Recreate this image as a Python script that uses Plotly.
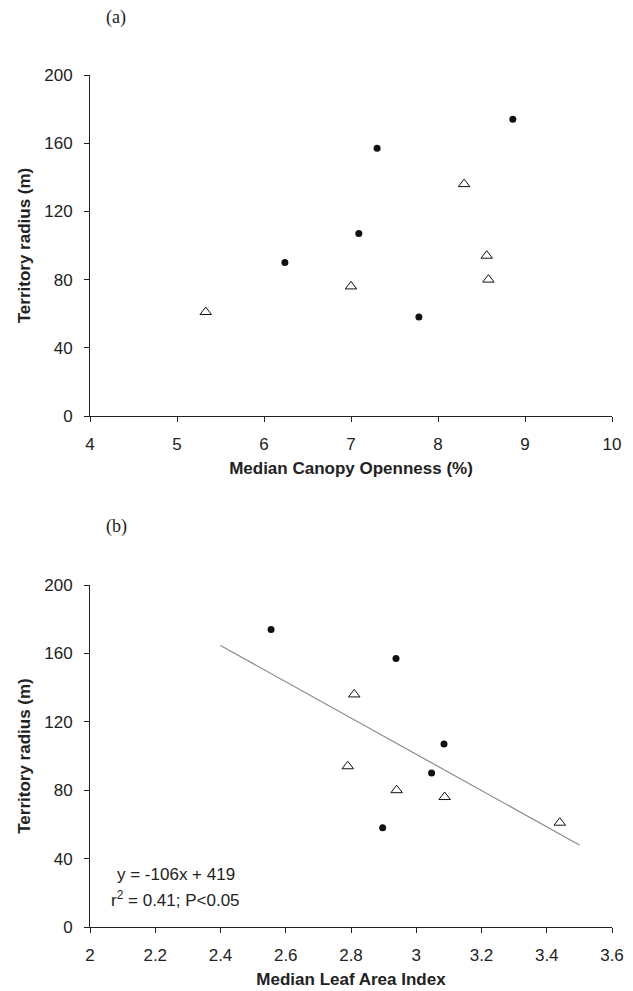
import plotly.graph_objects as go

# ---- data ----
dot_radius = [90, 107, 157, 58, 174]
dot_canopy = [6.24, 7.09, 7.30, 7.78, 8.86]
dot_lai = [3.047, 3.085, 2.938, 2.897, 2.555]

tri_radius = [61, 76, 136, 94, 80]
tri_canopy = [5.33, 7.00, 8.30, 8.56, 8.58]
tri_lai = [3.44, 3.087, 2.81, 2.79, 2.94]

fit_slope = -106
fit_intercept = 419
fit_x = [2.4, 3.5]
fit_y = [fit_slope * v + fit_intercept for v in fit_x]

x_ticks_a = [4, 5, 6, 7, 8, 9, 10]
x_ticks_b = [2, 2.2, 2.4, 2.6, 2.8, 3, 3.2, 3.4, 3.6]
y_ticks = [0, 40, 80, 120, 160, 200]

# the page body adds an 8px margin, so the figure is drawn 8px smaller and offset
OFF = 8
W, H = 633 - OFF, 991 - OFF
FONT = "Liberation Sans, Arial, sans-serif"
SERIF = "Liberation Serif, Times New Roman, serif"


def px(xp):
    return (xp - OFF) / W


def py(yp):
    return (H - (yp - OFF)) / H


dot_marker = dict(symbol="circle", size=7, color="#111111")
tri_marker = dict(symbol="triangle-up-open", size=10, color="#111111", line=dict(width=1, color="#111111"))

fig = go.Figure()
fig.add_trace(go.Scatter(x=dot_canopy, y=dot_radius, mode="markers", marker=dot_marker,
                         xaxis="x", yaxis="y", showlegend=False))
fig.add_trace(go.Scatter(x=tri_canopy, y=tri_radius, mode="markers", marker=tri_marker,
                         xaxis="x", yaxis="y", showlegend=False))
fig.add_trace(go.Scatter(x=fit_x, y=fit_y, mode="lines", line=dict(color="#8c8c8c", width=1.2),
                         xaxis="x2", yaxis="y2", showlegend=False))
fig.add_trace(go.Scatter(x=dot_lai, y=dot_radius, mode="markers", marker=dot_marker,
                         xaxis="x2", yaxis="y2", showlegend=False))
fig.add_trace(go.Scatter(x=tri_lai, y=tri_radius, mode="markers", marker=tri_marker,
                         xaxis="x2", yaxis="y2", showlegend=False))

xdom = [px(90), px(612)]
ydom_a = [py(416), py(75)]
ydom_b = [py(927), py(585)]

common_axis = dict(showgrid=False, zeroline=False, showline=True, linecolor="#222222", linewidth=1,
                   ticks="outside", ticklen=5, tickcolor="#222222", tickwidth=1, automargin=False,
                   tickfont=dict(family=FONT, size=17, color="#222222"))
title_font = dict(family=FONT, size=17, color="#222222")

fig.update_layout(
    template="none",
    width=W, height=H,
    margin=dict(l=0, r=0, t=0, b=0),
    paper_bgcolor="white", plot_bgcolor="white",
    xaxis=dict(domain=xdom, anchor="y", range=[4, 10], tickvals=x_ticks_a,
               ticktext=[str(v) for v in x_ticks_a], ticklabelstandoff=8,
               title=dict(text="<b>Median Canopy Openness (%)</b>", font=title_font, standoff=8),
               **common_axis),
    yaxis=dict(domain=ydom_a, anchor="x", range=[0, 200], tickvals=y_ticks, ticklabelstandoff=8,
               title=dict(text="<b>Territory radius (m)</b>", font=title_font, standoff=9),
               **common_axis),
    xaxis2=dict(domain=xdom, anchor="y2", range=[2, 3.6], tickvals=x_ticks_b,
                ticktext=[str(v) for v in x_ticks_b], ticklabelstandoff=8,
                title=dict(text="<b>Median Leaf Area Index</b>", font=title_font, standoff=8),
                **common_axis),
    yaxis2=dict(domain=ydom_b, anchor="x2", range=[0, 200], tickvals=y_ticks, ticklabelstandoff=8,
                title=dict(text="<b>Territory radius (m)</b>", font=title_font, standoff=9),
                **common_axis),
    annotations=[
        dict(text="(a)", x=px(116), y=py(17), xref="paper", yref="paper", showarrow=False,
             xanchor="center", yanchor="middle",
             font=dict(family=SERIF, size=18, color="#222222")),
        dict(text="(b)", x=px(116), y=py(526), xref="paper", yref="paper", showarrow=False,
             xanchor="center", yanchor="middle",
             font=dict(family=SERIF, size=18, color="#222222")),
        dict(text="y = -106x + 419", x=px(115), y=py(874), xref="paper", yref="paper",
             showarrow=False, xanchor="left", yanchor="middle",
             font=dict(family=FONT, size=17, color="#222222")),
        dict(text="r<sup>2</sup> = 0.41; P<0.05", x=px(109), y=py(899), xref="paper", yref="paper",
             showarrow=False, xanchor="left", yanchor="middle",
             font=dict(family=FONT, size=17, color="#222222")),
    ],
)

fig.write_html("out.html")
